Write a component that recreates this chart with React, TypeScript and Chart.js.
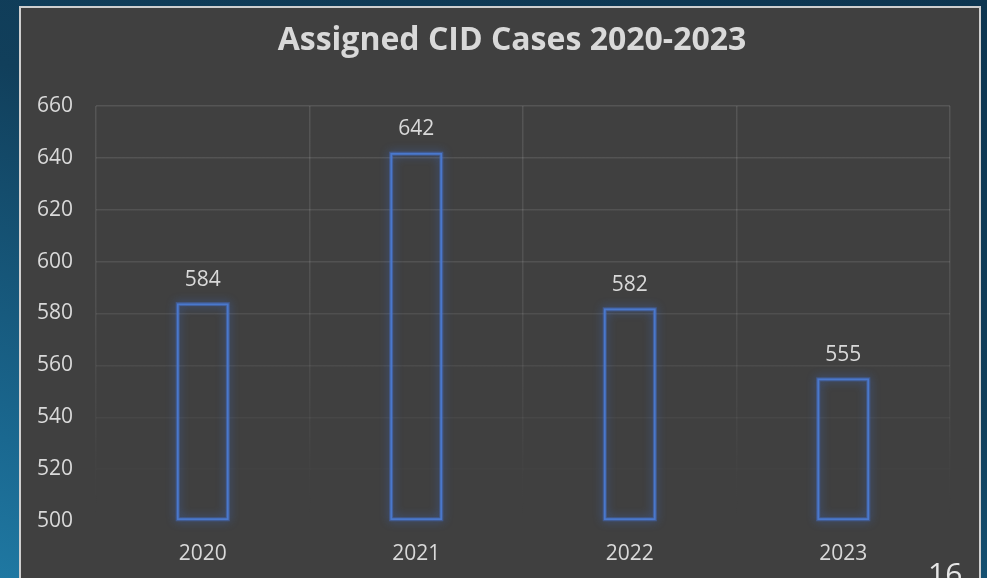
import React, { useEffect, useRef } from "react";
import { Chart, registerables } from "chart.js";

Chart.register(...registerables);

const titleText = "Assigned CID Cases 2020-2023";
const categories = ["2020", "2021", "2022", "2023"];
const caseCounts = [584, 642, 582, 555];
const yMin = 500;
const yMax = 660;
const yStep = 20;
const slideNumber = "16";

const FONT = "'Open Sans', 'Noto Sans', sans-serif";
const TEXT = "#d9d9d9";
const BAR_BLUE = "#4a78cc";

let gradCache: { key: string; g: CanvasGradient | null } = { key: "", g: null };
function fade(chart: any) {
  const { ctx, chartArea } = chart;
  if (!chartArea) return "rgba(255,255,255,0.1)";
  const key = chartArea.top + "_" + chartArea.bottom;
  if (gradCache.key === key && gradCache.g) return gradCache.g;
  const g = ctx.createLinearGradient(0, chartArea.top, 0, chartArea.bottom);
  g.addColorStop(0, "rgba(255,255,255,0.11)");
  g.addColorStop(0.45, "rgba(255,255,255,0.09)");
  g.addColorStop(0.75, "rgba(255,255,255,0.04)");
  g.addColorStop(0.88, "rgba(255,255,255,0.012)");
  g.addColorStop(1, "rgba(255,255,255,0)");
  gradCache = { key, g };
  return g;
}

const glowPlugin = {
  id: "barGlow",
  beforeDatasetsDraw(chart: any) {
    const meta = chart.getDatasetMeta(0);
    const ctx = chart.ctx;
    ctx.save();
    meta.data.forEach((bar: any) => {
      const { x, y, base, width } = bar.getProps(["x", "y", "base", "width"], true);
      ctx.shadowColor = "rgba(60,120,240,0.9)";
      ctx.strokeStyle = "rgba(70,115,210,0.45)";
      ctx.lineWidth = 4;
      ctx.shadowBlur = 10;
      ctx.strokeRect(x - width / 2 + 1, y + 1, width - 2, base - y - 2);
    });
    ctx.restore();
  },
};

const labelPlugin = {
  id: "barLabels",
  afterDatasetsDraw(chart: any) {
    const meta = chart.getDatasetMeta(0);
    const ctx = chart.ctx;
    const values = chart.data.datasets[0].data;
    ctx.save();
    ctx.fillStyle = TEXT;
    ctx.font = `21px ${FONT}`;
    ctx.textAlign = "center";
    ctx.textBaseline = "alphabetic";
    meta.data.forEach((bar: any, i: number) => {
      const { x, y } = bar.getProps(["x", "y"], true);
      ctx.fillText(String(values[i]), x, y - 17.5);
    });
    ctx.restore();
  },
};

const titlePlugin = {
  id: "slideTitle",
  afterDraw(chart: any) {
    const ctx = chart.ctx;
    ctx.save();
    ctx.fillStyle = TEXT;
    ctx.font = `bold 32px ${FONT}`;
    ctx.textAlign = "center";
    ctx.textBaseline = "alphabetic";
    ctx.fillText(titleText, 512, 50);
    ctx.restore();
  },
};

export default function App() {
  const canvasRef = useRef<HTMLCanvasElement | null>(null);

  useEffect(() => {
    if (!canvasRef.current) return;
    Chart.defaults.font.family = FONT;
    const chart = new Chart(canvasRef.current, {
      type: "bar",
      data: {
        labels: categories,
        datasets: [
          {
            data: caseCounts,
            base: yMin,
            backgroundColor: "rgba(0,0,0,0)",
            borderColor: BAR_BLUE,
            borderWidth: 2,
            borderSkipped: false,
            categoryPercentage: 1,
            barPercentage: 0.244,
          },
        ],
      },
      options: {
        responsive: false,
        animation: false,
        devicePixelRatio: 1,
        layout: { padding: { left: 20, right: 37, top: 106, bottom: 0 } },
        plugins: {
          legend: { display: false },
          tooltip: { enabled: false },
          title: { display: false },
        },
        scales: {
          x: {
            offset: true,
            grid: { offset: true, drawTicks: false, color: (c: any) => fade(c.chart), lineWidth: 1.5 },
            border: { display: false },
            ticks: { color: TEXT, font: { size: 21 }, padding: 20 },
            afterFit: (s: any) => {
              s.height = 57;
            },
          },
          y: {
            min: yMin,
            max: yMax,
            grid: { drawTicks: false, color: (c: any) => fade(c.chart), lineWidth: 1.5 },
            border: { display: false },
            ticks: { stepSize: yStep, color: TEXT, font: { size: 21 }, padding: 23 },
            afterFit: (s: any) => {
              s.width = 76;
            },
          },
        },
      },
      plugins: [glowPlugin, labelPlugin, titlePlugin],
    });
    return () => chart.destroy();
  }, []);

  return (
    <div
      style={{
        position: "fixed",
        left: 0,
        top: 0,
        width: 987,
        height: 578,
        overflow: "hidden",
        background: "linear-gradient(200deg, #0d3550 0%, #113f5b 45%, #1a6890 85%, #1f78a2 100%)",
      }}
    >
      <div
        style={{
          position: "absolute",
          left: 19,
          top: 6,
          width: 958,
          height: 640,
          border: "2px solid #cfcfcf",
          background: "#404040",
        }}
      />
      <canvas
        ref={canvasRef}
        width={987}
        height={578}
        style={{ position: "absolute", left: 0, top: 0, width: 987, height: 578 }}
      />
      <div
        style={{
          position: "absolute",
          left: 928,
          top: 556,
          fontFamily: FONT,
          fontSize: 30,
          color: "#e6e6e6",
          lineHeight: "34px",
        }}
      >
        {slideNumber}
      </div>
    </div>
  );
}
